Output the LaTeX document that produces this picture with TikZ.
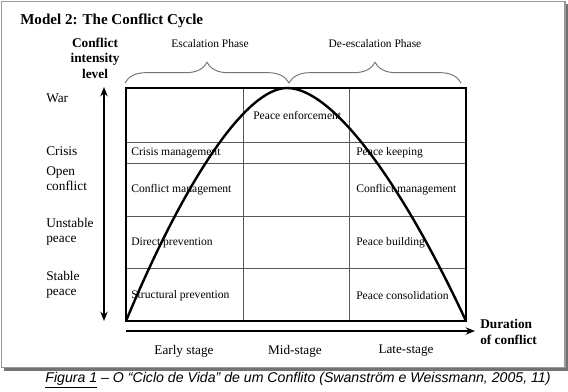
\documentclass[tikz,border=0pt]{standalone}
\usepackage{fontspec}
\setmainfont{Liberation Serif}
\newfontfamily\capfont{Liberation Sans}
\usetikzlibrary{arrows.meta,decorations.pathreplacing}
\begin{document}
\begin{tikzpicture}[x=0.75pt,y=-0.75pt,
  titlestyle/.style={font=\fontsize{11.3}{13}\selectfont\bfseries, inner sep=0pt},
  axislab/.style={font=\fontsize{10}{11.6}\selectfont\bfseries, inner sep=0pt, align=center},
  phaselab/.style={font=\fontsize{8.6}{10}\selectfont, inner sep=0pt},
  levellab/.style={font=\fontsize{10}{11.6}\selectfont, inner sep=0pt, align=left, anchor=west},
  celltext/.style={font=\fontsize{8.7}{10}\selectfont, inner sep=0pt, anchor=west},
  stagelab/.style={font=\fontsize{9.9}{11}\selectfont, inner sep=0pt},
  gridline/.style={draw=black!65, line width=0.6pt},
  border/.style={draw=black, line width=2.2pt},
  curvestyle/.style={draw=black, line width=1.8pt},
  axisarrow/.style={draw=black, line width=1.4pt},
  bracestyle/.style={draw=black!55, line width=0.7pt, decorate, decoration={brace, amplitude=15.5pt}},
  tip/.tip={Stealth[length=7pt,width=5.5pt]}
]
\useasboundingbox (0,0) rectangle (568,392);
% frame with shadow
\fill[black!55] (4,4) rectangle (568,371);
\draw[black!40, line width=0.9pt, fill=white] (1.5,1.5) rectangle (565,367.5);

% title and axis label
\node[titlestyle, anchor=west] (title) at (20,21) {Model 2: The Conflict Cycle};
\node[axislab] (ylab) at (95,58) {Conflict\\intensity\\level};

% phase labels and braces
\node[phaselab] (esc) at (210,44) {Escalation Phase};
\node[phaselab] (desc) at (375,44) {De-escalation Phase};
\coordinate (b1) at (125,83);
\coordinate (b2) at (289,83);
\coordinate (b3) at (461,83);
\draw[bracestyle] (b1) -- (b2);
\draw[bracestyle] (b2) -- (b3);

% level labels
\node[levellab] (war) at (46,98) {War};
\node[levellab] (crisis) at (46,151) {Crisis};
\node[levellab] (open) at (46,178.5) {Open\\conflict};
\node[levellab] (unst) at (46,232) {Unstable\\peace};
\node[levellab] (stab) at (46,285) {Stable\\peace};

% table
\coordinate (tl) at (126,88);
\coordinate (tr) at (466,88);
\coordinate (bl) at (126,321);
\coordinate (br) at (466,321);
\coordinate (c1t) at (243,88);
\coordinate (c1b) at (243,321);
\coordinate (c2t) at (349,88);
\coordinate (c2b) at (349,321);
\coordinate (r1l) at (126,142);
\coordinate (r1r) at (466,142);
\coordinate (r2l) at (126,163);
\coordinate (r2r) at (466,163);
\coordinate (r3l) at (126,216);
\coordinate (r3r) at (466,216);
\coordinate (r4l) at (126,268);
\coordinate (r4r) at (466,268);
\draw[gridline] (c1t) -- (c1b);
\draw[gridline] (c2t) -- (c2b);
\draw[gridline] (r1l) -- (r1r);
\draw[gridline] (r2l) -- (r2r);
\draw[gridline] (r3l) -- (r3r);
\draw[gridline] (r4l) -- (r4r);

% cell texts
\node[celltext] (cm1) at (131,153) {Crisis management};
\node[celltext] (cf1) at (131,190) {Conflict management};
\node[celltext] (dp) at (131,243) {Direct prevention};
\node[celltext] (sp) at (131,296) {Structural prevention};
\node[celltext] (pe) at (253,115) {Peace enforcement};
\node[celltext] (pk) at (356,153) {Peace keeping};
\node[celltext] (cf2) at (356,190) {Conflict management};
\node[celltext] (pb) at (356,243) {Peace building};
\node[celltext] (pc) at (356,296) {Peace consolidation};

\draw[border] (tl) rectangle (br);

% curve
\coordinate (peak) at (287,88);
\draw[curvestyle] (bl) .. controls (186,177) and (247,88) .. (peak)
   .. controls (331,88) and (399,177) .. (br);

% axes
\coordinate (ya) at (104,87);
\coordinate (yb) at (104,321);
\draw[axisarrow, {tip}-{tip}] (yb) -- (ya);
\coordinate (xa) at (126,331);
\coordinate (xb) at (475,331);
\draw[axisarrow, -{tip}] (xa) -- (xb);
\node[axislab, align=left, anchor=west] (dur) at (480,332) {Duration\\of conflict};

% stages
\node[stagelab] (early) at (184,351) {Early stage};
\node[stagelab] (mid) at (295,351) {Mid-stage};
\node[stagelab] (late) at (406,351) {Late-stage};

% caption
\node[font=\capfont\itshape\fontsize{10.6}{12}\selectfont, inner sep=0pt] (cap) at (298,380)
  {\underline{Figura 1} – O “Ciclo de Vida” de um Conflito (Swanström e Weissmann, 2005, 11)};
\end{tikzpicture}
\end{document}
